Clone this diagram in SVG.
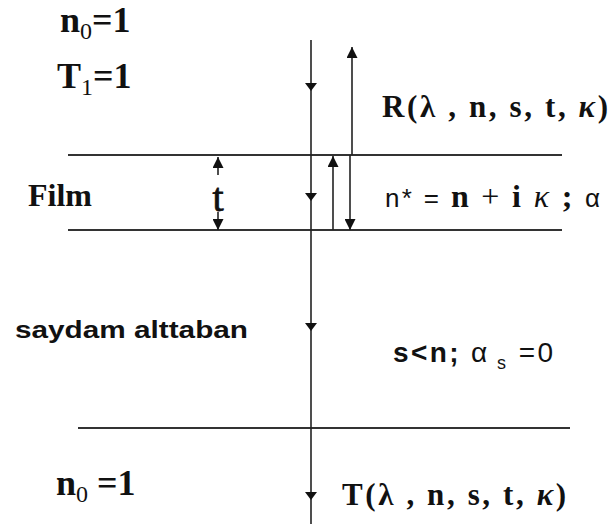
<svg xmlns="http://www.w3.org/2000/svg" width="613" height="524" viewBox="0 0 613 524">
<defs>
<style>
.ln{stroke:#222;stroke-width:1.6;fill:none}
.hl{stroke:#333;stroke-width:2;fill:none}
.sb{font-family:"Liberation Serif",serif;font-weight:bold;fill:#111}
.sr{font-family:"Liberation Serif",serif;fill:#111}
.ss{font-family:"Liberation Sans",Arial,sans-serif;fill:#111}
</style>
<marker id="ah" viewBox="0 0 10 10" refX="10" refY="5" markerWidth="11" markerHeight="11" markerUnits="userSpaceOnUse" orient="auto">
<path d="M0,0 L10,5 L0,10 z" fill="#111"/>
</marker>
<path id="tri" d="M-6,-3 L6,-3 L0,5 z" fill="#111"/>
</defs>
<rect width="613" height="524" fill="#fff"/>
<g id="layers">
<line class="hl" x1="68" y1="155" x2="562" y2="155"/>
<line class="hl" x1="68" y1="230" x2="562" y2="230"/>
<line class="hl" x1="78" y1="428" x2="570" y2="428"/>
</g>
<g id="connectors">
<line class="ln" x1="311" y1="40" x2="311" y2="524"/>
<use href="#tri" x="311" y="86"/>
<use href="#tri" x="311" y="196"/>
<use href="#tri" x="311" y="326"/>
<use href="#tri" x="311" y="495"/>
<line class="ln" x1="352" y1="155" x2="352" y2="47" marker-end="url(#ah)"/>
<line class="ln" x1="333" y1="230" x2="333" y2="156" marker-end="url(#ah)"/>
<line class="ln" x1="350" y1="155" x2="350" y2="230" marker-end="url(#ah)"/>
<line class="ln" x1="218" y1="175" x2="218" y2="157" stroke-width="3" marker-end="url(#ah)"/>
<line class="ln" x1="218" y1="212" x2="218" y2="230" stroke-width="3" marker-end="url(#ah)"/>
</g>
<g id="n0-top"><text class="sb" x="60" y="32" font-size="36">n<tspan class="sr" font-weight="normal" font-size="24" dy="7">0</tspan><tspan dy="-7">=1</tspan></text></g>
<g id="T1"><text class="sb" x="57" y="88" font-size="36">T<tspan class="sr" font-weight="normal" font-size="24" dy="7">1</tspan><tspan dy="-7">=1</tspan></text></g>
<g id="R"><text class="sb" x="382" y="117" font-size="31" textLength="226" lengthAdjust="spacing">R(λ , n, s, t, <tspan font-style="italic">κ</tspan>)</text></g>
<g id="film"><text class="sb" x="28" y="206" font-size="32">Film</text></g>
<g id="t-label"><text class="sr" x="218" y="211" font-size="40" text-anchor="middle" stroke="#111" stroke-width="0.8">t</text></g>
<g id="nstar"><text x="385" y="207" font-size="26" textLength="215" lengthAdjust="spacing"><tspan class="ss">n* = </tspan><tspan class="sb" font-size="32">n</tspan><tspan class="sr" font-size="32"> + </tspan><tspan class="sb" font-size="32">i </tspan><tspan class="sr" font-style="italic" font-size="32">κ</tspan><tspan class="sb" font-size="32"> ; </tspan><tspan class="ss">α</tspan></text></g>
<g id="saydam"><text class="ss" x="15" y="338" font-size="23" font-weight="bold" textLength="233" lengthAdjust="spacingAndGlyphs">saydam alttaban</text></g>
<g id="sn"><text class="ss" x="393" y="362" font-size="28" textLength="160" lengthAdjust="spacing"><tspan font-weight="bold">s&lt;n; </tspan>α<tspan font-size="18" dy="7"> s</tspan><tspan dy="-7"> =0</tspan></text></g>
<g id="n0-bottom"><text class="sb" x="56" y="495" font-size="36">n<tspan class="sr" font-weight="normal" font-size="24" dy="7">0</tspan><tspan dy="-7"> =1</tspan></text></g>
<g id="T"><text class="sb" x="342" y="505" font-size="31" textLength="224" lengthAdjust="spacing">T(λ , n, s, t, <tspan font-style="italic">κ</tspan>)</text></g>
</svg>
